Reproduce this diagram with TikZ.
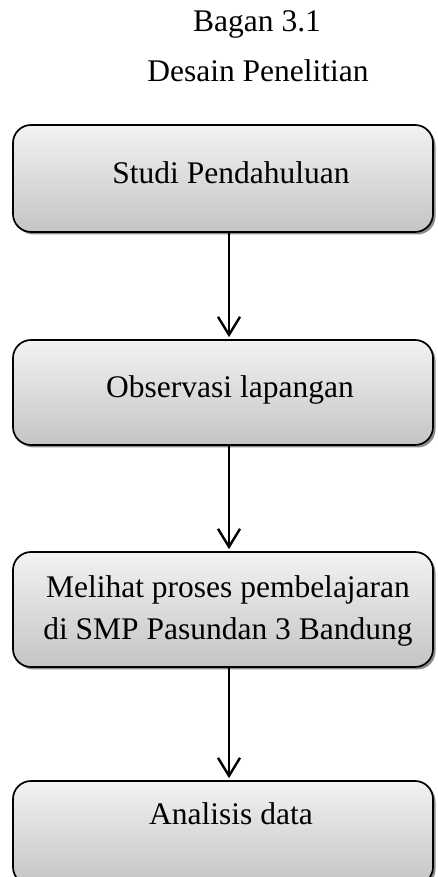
\documentclass[tikz,border=0pt]{standalone}
\usepackage{fontspec}
\setmainfont{Liberation Serif}
\usetikzlibrary{arrows.meta,shadows}
\tikzset{
  stepbox/.style={draw=black, line width=1.7pt, rounded corners=18pt,
    top color=black!5, bottom color=black!23, minimum width=420pt,
    drop shadow={shadow xshift=2.5pt, shadow yshift=-2.5pt, fill=black!45, opacity=1}},
  steptext/.style={anchor=base, inner sep=0pt, align=center},
  flow/.style={line width=2.6pt, shorten >=2pt,
    -{Straight Barb[length=18pt, width=22pt, line width=2.4pt]}}
}
\begin{document}
\begin{tikzpicture}[x=1pt, y=1pt, font=\fontsize{31.5}{42}\selectfont]
  \useasboundingbox (0,0) rectangle (438,877);
  \clip (0,0) rectangle (438,877);
  % judul
  \node[steptext] (judul) at (257,845) {Bagan 3.1};
  \node[steptext] (subjudul) at (258,795) {Desain Penelitian};
  % kotak
  \node[stepbox, minimum height=107pt] (studi) at (223,698.5) {};
  \node[stepbox, minimum height=105pt] (observasi) at (223,484.5) {};
  \node[stepbox, minimum height=115pt] (melihat) at (223,267.5) {};
  \node[stepbox, minimum height=104pt] (analisis) at (223,44) {};
  % teks
  \node[steptext] (tstudi) at (231,693) {Studi Pendahuluan};
  \node[steptext] (tobservasi) at (230,479) {Observasi lapangan};
  \node[steptext] (tmelihat) at (228,237) {Melihat proses pembelajaran\\di SMP Pasundan 3 Bandung};
  \node[steptext] (tanalisis) at (231,52) {Analisis data};
  % panah
  \draw[flow] ([xshift=6pt]studi.south) -- ([xshift=6pt]observasi.north);
  \draw[flow] ([xshift=6pt]observasi.south) -- ([xshift=6pt]melihat.north);
  \draw[flow] ([xshift=6pt]melihat.south) -- ([xshift=6pt]analisis.north);
\end{tikzpicture}
\end{document}
